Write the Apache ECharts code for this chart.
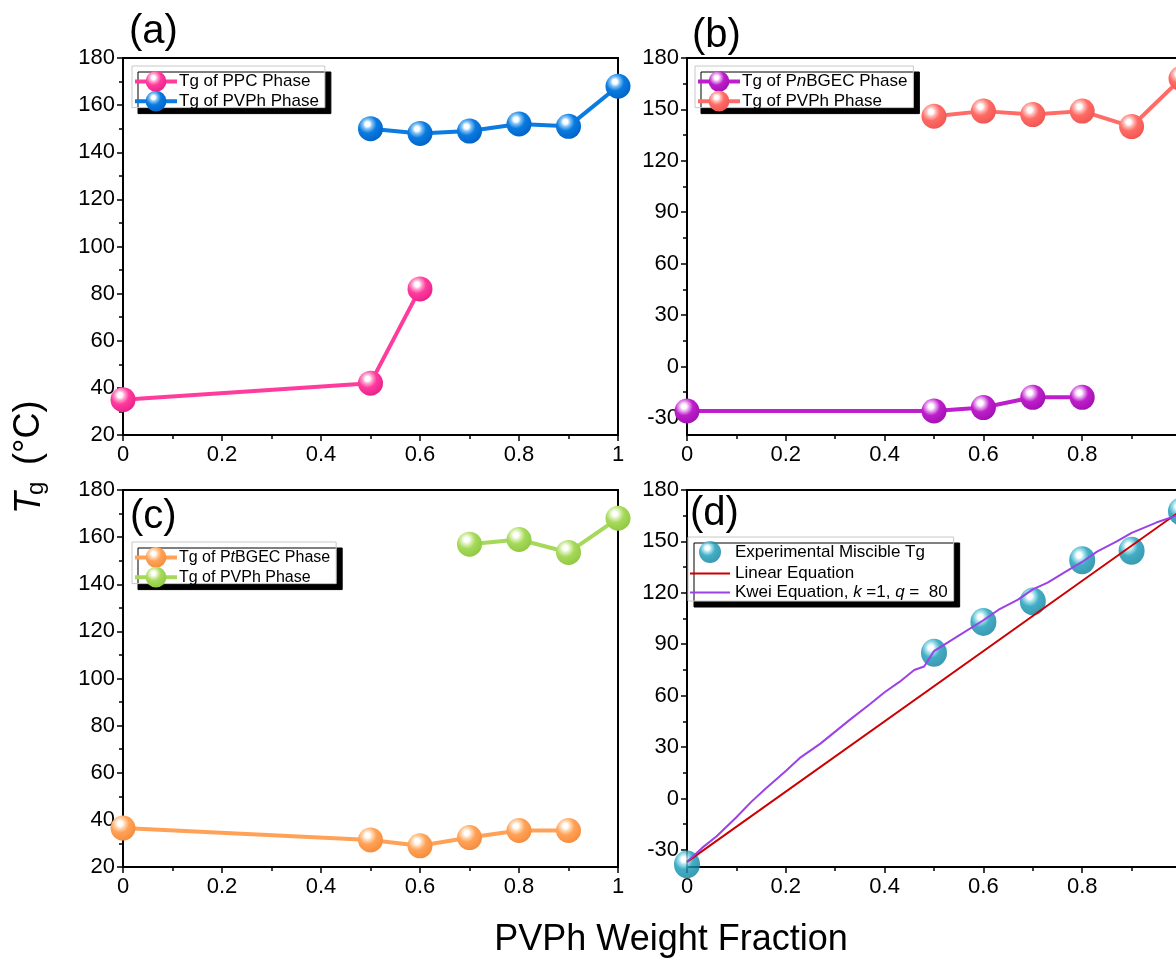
<!DOCTYPE html>
<html><head><meta charset="utf-8">
<script src="https://cdn.jsdelivr.net/npm/echarts@6/dist/echarts.min.js"></script>
<style>html,body{margin:0;padding:0;background:#fff}#c{width:1176px;height:962px}</style>
</head><body><div id="c"></div>
<script>
const FONT = '"Liberation Sans", Arial, sans-serif';
// ---- data ----
const aPPC_x = [0, 0.5, 0.6];
const aPPC_y = [35, 42, 82];
const aPVPh_x = [0.5, 0.6, 0.7, 0.8, 0.9, 1.0];
const aPVPh_y = [150, 148, 149, 152, 151, 168];
const bPnB_x = [0, 0.5, 0.6, 0.7, 0.8];
const bPnB_y = [-26, -26, -24, -18, -18];
const bPVPh_x = [0.5, 0.6, 0.7, 0.8, 0.9, 1.0];
const bPVPh_y = [146, 149, 147, 149, 140, 168];
const cPtB_x = [0, 0.5, 0.6, 0.7, 0.8, 0.9];
const cPtB_y = [36.5, 31.5, 29, 32.5, 35.5, 35.5];
const cPVPh_x = [0.7, 0.8, 0.9, 1.0];
const cPVPh_y = [157, 159, 153.5, 168];
const dExp_x = [0, 0.5, 0.6, 0.7, 0.8, 0.9, 1.0];
const dExp_y = [-38.5, 85, 103, 115, 139, 144.5, 167.5];
const dLin_x = [0, 1];
const dLin_y = [-37, 168];
const dKwei_x = [0, 0.03, 0.06, 0.1, 0.13, 0.16, 0.2, 0.23, 0.27, 0.3, 0.33, 0.37, 0.4, 0.43, 0.46, 0.48, 0.5, 0.55, 0.6, 0.63, 0.67, 0.7, 0.73, 0.77, 0.8, 0.83, 0.87, 0.9, 0.95, 1.0];
const dKwei_y = [-37, -29, -22, -11, -2, 6, 16, 24, 32, 39, 46, 55, 62, 68, 75, 77, 86, 95, 104, 110, 116, 122, 126, 133, 138, 144, 150, 155, 161, 166];
const yTicksAC = [20, 40, 60, 80, 100, 120, 140, 160, 180];
const yTicksBD = [-30, 0, 30, 60, 90, 120, 150, 180];
const yMinorBD = [-15, 15, 45, 75, 105, 135, 165];
const legendNames = {
  a1: 'Tg of PPC Phase', a2: 'Tg of PVPh Phase',
  b1: 'Tg of P{i|n}BGEC Phase', b2: 'Tg of PVPh Phase',
  c1: 'Tg of P{i|t}BGEC Phase', c2: 'Tg of PVPh Phase',
  d1: 'Experimental Miscible Tg', d2: 'Linear Equation', d3: 'Kwei Equation, {i|k} =1, {i|q} =  80'
};

function zip(xs, ys) { return xs.map((x, i) => [x, ys[i]]); }
function ball(base, light, dark) {
  return new echarts.graphic.RadialGradient(0.38, 0.32, 0.72, [
    {offset: 0, color: '#ffffff'}, {offset: 0.13, color: '#ffffff'},
    {offset: 0.28, color: light}, {offset: 0.5, color: base}, {offset: 1, color: dark}
  ]);
}
const grids = [
  {left: 123, top: 58, width: 495, height: 377},
  {left: 687, top: 58, width: 494, height: 377},
  {left: 123, top: 490, width: 495, height: 377},
  {left: 687, top: 490, width: 494, height: 377}
].map(g => Object.assign(g, {show: true, borderColor: '#000', borderWidth: 2, backgroundColor: 'transparent',
  containLabel: false, outerBoundsMode: 'none'}));

const blk = {color: '#000', width: 1.5};
function xAx(gi) {
  return {type: 'value', gridIndex: gi, min: 0, max: 1, interval: 0.2,
    axisLine: {show: true, onZero: false, lineStyle: {color: '#000', width: 2}},
    axisTick: {show: true, length: 6, lineStyle: blk},
    minorTick: {show: true, splitNumber: 2, length: 4, lineStyle: blk},
    splitLine: {show: false}, minorSplitLine: {show: false},
    axisLabel: {color: '#000', fontSize: 22, fontFamily: FONT, margin: 9, showMaxLabel: true}};
}
function yAxAC(gi) {
  return {type: 'value', gridIndex: gi, min: 20, max: 180, interval: 20,
    axisLine: {show: true, onZero: false, lineStyle: {color: '#000', width: 2}},
    axisTick: {show: true, length: 6, lineStyle: blk},
    minorTick: {show: true, splitNumber: 2, length: 4, lineStyle: blk},
    splitLine: {show: false}, minorSplitLine: {show: false},
    axisLabel: {color: '#000', fontSize: 22, fontFamily: FONT, margin: 8}};
}
function yAxBD(gi) {
  return {type: 'value', gridIndex: gi, min: -40, max: 180,
    axisLine: {show: true, onZero: false, lineStyle: {color: '#000', width: 2}},
    axisTick: {show: true, length: 6, lineStyle: blk, customValues: yTicksBD},
    splitLine: {show: false},
    axisLabel: {color: '#000', fontSize: 22, fontFamily: FONT, margin: 8, customValues: yTicksBD}};
}
function yAxBDminor(gi) {
  return {type: 'value', gridIndex: gi, min: -40, max: 180, position: 'left',
    axisLine: {show: false, onZero: false},
    axisTick: {show: true, length: 4, lineStyle: blk, customValues: yMinorBD},
    splitLine: {show: false},
    axisLabel: {show: false}};
}

function lineSeries(name, xi, yi, xs, ys, base, light, dark) {
  return {name, type: 'line', xAxisIndex: xi, yAxisIndex: yi, data: zip(xs, ys),
    symbol: 'circle', symbolSize: 25, showAllSymbol: true,
    lineStyle: {color: base, width: 4},
    itemStyle: {color: ball(base, light, dark), borderWidth: 0},
    emphasis: {disabled: true}, z: 3};
}

const legendBase = {
  orient: 'vertical', itemWidth: 42, itemHeight: 26, itemGap: -1,
  backgroundColor: '#fff', borderColor: '#c8c8c8', borderWidth: 1, borderRadius: 0,
  shadowColor: '#000', shadowOffsetX: 6, shadowOffsetY: 6, shadowBlur: 0,
  padding: [5, 6, -4, 1], selectedMode: false,
  lineStyle: {width: 4},
  formatter: n => legendNames[n],
  textStyle: {color: '#000', fontSize: 17, fontFamily: FONT, padding: [0, 0, 0, -3],
    rich: {i: {fontStyle: 'italic', fontSize: 17, fontFamily: FONT, color: '#000'}}}
};
const LINEICON = 'path://M0,0 L40,0 L40,2 L0,2 Z';

const option = {
  animation: false,
  backgroundColor: '#fff',
  grid: grids,
  xAxis: [xAx(0), xAx(1), xAx(2), xAx(3)],
  yAxis: [yAxAC(0), yAxBD(1), yAxAC(2), yAxBD(3), yAxBDminor(1), yAxBDminor(3)],
  legend: [
    Object.assign({}, legendBase, {left: 132, top: 66, data: ['a1', 'a2']}),
    Object.assign({}, legendBase, {left: 695, top: 66, data: ['b1', 'b2']}),
    Object.assign({}, legendBase, {left: 132, top: 542,
      textStyle: Object.assign({}, legendBase.textStyle, {fontSize: 16, rich: {i: {fontStyle: 'italic', fontSize: 16, fontFamily: FONT, color: '#000'}}}),
      data: ['c1', 'c2']}),
    Object.assign({}, legendBase, {left: 688, top: 537, itemHeight: 22, itemGap: 2, itemWidth: 40,
      padding: [4, 6, 0, 2], lineStyle: {width: 2}, symbolKeepAspect: true,
      textStyle: Object.assign({}, legendBase.textStyle, {padding: [0, 0, 0, 0]}),
      data: [{name: 'd1'}, {name: 'd2', icon: LINEICON}, {name: 'd3', icon: LINEICON}]})
  ],
  series: [
    lineSeries('a1', 0, 0, aPPC_x, aPPC_y, '#FF3C9E', '#FF9FCE', '#E8208A'),
    lineSeries('a2', 0, 0, aPVPh_x, aPVPh_y, '#0A7BE0', '#79BDF5', '#0062C8'),
    lineSeries('b1', 1, 1, bPnB_x, bPnB_y, '#BE1ECB', '#E6A2EE', '#A010B0'),
    lineSeries('b2', 1, 1, bPVPh_x, bPVPh_y, '#FF6B66', '#FFB8B3', '#F05550'),
    lineSeries('c1', 2, 2, cPtB_x, cPtB_y, '#FFA257', '#FFD6B0', '#F58C3C'),
    lineSeries('c2', 2, 2, cPVPh_x, cPVPh_y, '#A6D95B', '#D9F0B3', '#90C840'),
    {name: 'd2', type: 'line', xAxisIndex: 3, yAxisIndex: 3, data: zip(dLin_x, dLin_y),
      symbol: 'none', lineStyle: {color: '#CC0000', width: 2}, itemStyle: {color: '#CC0000'}, z: 2},
    {name: 'd3', type: 'line', xAxisIndex: 3, yAxisIndex: 3, data: zip(dKwei_x, dKwei_y),
      symbol: 'none', lineStyle: {color: '#9B42E6', width: 2}, itemStyle: {color: '#9B42E6'}, z: 2},
    {name: 'd1', type: 'scatter', xAxisIndex: 3, yAxisIndex: 3, data: zip(dExp_x, dExp_y),
      symbol: 'circle', symbolSize: [26, 28],
      itemStyle: {color: ball('#1399B6', '#86D6E6', '#0A7F9C')}, z: 1}
  ],
  graphic: [
    {type: 'text', left: 129, top: 12, style: {text: '(a)', font: '40px ' + FONT, fill: '#000'}},
    {type: 'text', left: 692, top: 16, style: {text: '(b)', font: '40px ' + FONT, fill: '#000'}},
    {type: 'text', left: 130, top: 497, style: {text: '(c)', font: '40px ' + FONT, fill: '#000'}},
    {type: 'text', left: 690, top: 494, style: {text: '(d)', font: '40px ' + FONT, fill: '#000'}},
    {type: 'text', x: 671, y: 940, style: {text: 'PVPh Weight Fraction', font: '36px ' + FONT, fill: '#000', align: 'center', verticalAlign: 'middle'}},
    {type: 'group', x: 29.5, y: 514, rotation: Math.PI / 2, children: [
      {type: 'text', x: 0, y: 0, style: {text: 'T', font: 'italic 36px ' + FONT, fill: '#000', align: 'left', verticalAlign: 'middle'}},
      {type: 'text', x: 19, y: 7, style: {text: 'g', font: '24px ' + FONT, fill: '#000', align: 'left', verticalAlign: 'middle'}},
      {type: 'text', x: 49, y: 0, style: {text: '(°C)', font: '36px ' + FONT, fill: '#000', align: 'left', verticalAlign: 'middle'}}
    ]}
  ]
};
const chart = echarts.init(document.getElementById('c'), null, {renderer: 'canvas'});
chart.setOption(option);
</script></body></html>
